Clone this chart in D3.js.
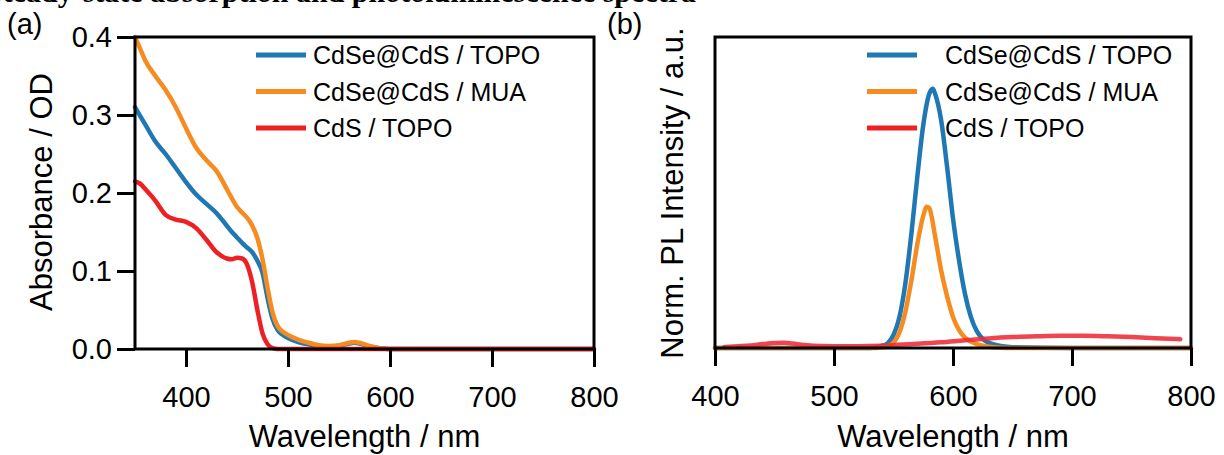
<!DOCTYPE html>
<html><head><meta charset="utf-8">
<script src="https://cdn.jsdelivr.net/npm/d3@7"></script>
<style>
body{margin:0;background:#fff;}
svg{display:block;}
text{font-family:"Liberation Sans",Arial,sans-serif;fill:#000;}
</style></head>
<body>
<svg id="chart" width="1224" height="455"></svg>
<script>
// ---------- Data ----------
const seriesNames = ["CdSe@CdS / TOPO", "CdSe@CdS / MUA", "CdS / TOPO"];
const seriesColors = ["#1f77b4", "#f68b1f", "#ee2024"];

// (a) absorbance
const absWl = [350,355,360,370,380,390,400,410,420,430,440,445,450,455,460,465,470,475,480,485,490,495,500,510,520,530,540,550,560,565,570,580,590,600,650,700,750,800];
const absTopo = [0.310,0.299,0.288,0.266,0.250,0.232,0.214,0.198,0.186,0.174,0.158,0.150,0.143,0.136,0.130,0.124,0.113,0.098,0.065,0.038,0.024,0.018,0.014,0.009,0.006,0.004,0.003,0.004,0.007,0.008,0.007,0.003,0.001,0,0,0,0,0];
const absMua  = [0.400,0.385,0.370,0.350,0.332,0.310,0.283,0.258,0.242,0.228,0.205,0.193,0.182,0.175,0.168,0.158,0.142,0.115,0.078,0.046,0.029,0.022,0.018,0.012,0.008,0.005,0.004,0.005,0.008,0.009,0.008,0.004,0.001,0,0,0,0,0];
const absCdS  = [0.215,0.212,0.205,0.190,0.172,0.166,0.163,0.155,0.140,0.124,0.116,0.115,0.117,0.116,0.108,0.085,0.050,0.020,0.006,0.001,0,0,0,0,0,0,0,0,0,0,0,0,0,0,0,0,0,0];
const absTicksX = [400,500,600,700,800];
const absTicksY = [0.0,0.1,0.2,0.3,0.4];

// (b) normalized PL
const plTopoWl = [400,500,530,540,545,550,555,560,565,570,575,580,583,585,590,595,600,605,610,615,620,625,630,640,650,700,800];
const plTopo   = [0,0,0,0.008,0.018,0.05,0.12,0.25,0.44,0.66,0.86,0.98,1.0,0.98,0.88,0.70,0.50,0.34,0.21,0.12,0.065,0.035,0.02,0.008,0.003,0,0];
const plMuaWl  = [400,500,530,540,545,550,555,560,565,570,575,578,580,585,590,595,600,605,610,615,620,630,640,650,700,800];
const plMua    = [0,0,0,0.002,0.006,0.02,0.06,0.14,0.26,0.40,0.51,0.545,0.54,0.43,0.30,0.20,0.12,0.07,0.04,0.025,0.015,0.005,0.001,0,0,0];
const plCdSWl  = [408,420,430,440,450,458,465,475,490,510,530,550,570,590,610,630,650,670,690,710,730,750,770,791];
const plCdS    = [0.004,0.007,0.010,0.015,0.019,0.020,0.017,0.012,0.008,0.007,0.008,0.011,0.016,0.022,0.030,0.037,0.042,0.045,0.047,0.047,0.045,0.042,0.038,0.034];
const plTicksX = [400,500,600,700,800];

// ---------- Drawing ----------
const svg = d3.select("#chart");
const tickFont = 29, titleFont = 31, legFont = 25;

// cut-off heading at the very top
svg.append("text").attr("x", -14).attr("y", 2).attr("text-anchor","start")
  .style("font-family","'Liberation Serif',serif").style("font-weight","bold").style("font-size","30px")
  .text("Steady-state absorption and photoluminescence spectra");

function panel(opt){
  const x = d3.scaleLinear().domain(opt.xDomain).range([opt.left, opt.right]);
  const y = d3.scaleLinear().domain(opt.yDomain).range([opt.bottom, opt.top]);
  const g = svg.append("g");
  const line = d3.line().x(d=>x(d[0])).y(d=>y(d[1])).curve(d3.curveMonotoneX);
  opt.series.forEach(s=>{
    g.append("path").datum(s.wl.map((w,i)=>[w,s.v[i]]))
      .attr("d", line).attr("fill","none").attr("stroke", s.color)
      .attr("stroke-width", 4.5).attr("stroke-linejoin","round").attr("stroke-linecap","round")
      .attr("opacity", s.opacity||1);
  });
  // frame
  g.append("rect").attr("x", opt.left).attr("y", opt.top)
    .attr("width", opt.right-opt.left).attr("height", opt.bottom-opt.top)
    .attr("fill","none").attr("stroke","#000").attr("stroke-width",3);
  // x axis
  const xa = g.append("g").attr("transform",`translate(0,${opt.bottom})`)
    .call(d3.axisBottom(x).tickValues(opt.xTicks).tickSize(18).tickSizeOuter(0).tickPadding(19).tickFormat(d3.format("d")));
  xa.select(".domain").remove();
  xa.selectAll("line").attr("stroke","#000").attr("stroke-width",3);
  xa.selectAll("text").style("font-size", tickFont+"px").style("font-family","'Liberation Sans',Arial,sans-serif");
  if(opt.yTicks){
    const ya = g.append("g").attr("transform",`translate(${opt.left},0)`)
      .call(d3.axisLeft(y).tickValues(opt.yTicks).tickSize(18).tickSizeOuter(0).tickPadding(5).tickFormat(d3.format(".1f")));
    ya.select(".domain").remove();
    ya.selectAll("line").attr("stroke","#000").attr("stroke-width",3);
    ya.selectAll("text").style("font-size", tickFont+"px").style("font-family","'Liberation Sans',Arial,sans-serif");
  }
  // axis titles
  g.append("text").attr("x",(opt.left+opt.right)/2).attr("y",447).attr("text-anchor","middle")
    .style("font-size",titleFont+"px").text(opt.xTitle);
  g.append("text").attr("transform",`translate(${opt.yTitleX},${opt.yTitleY}) rotate(-90)`)
    .attr("text-anchor","middle").style("font-size",opt.yTitleSize+"px").text(opt.yTitle);
  // panel letter
  g.append("text").attr("x",opt.letterX).attr("y",34).style("font-size","29px").text(opt.letter);
  // legend
  opt.series.forEach((s,i)=>{
    const ly = 55 + i*36.5;
    g.append("line").attr("x1",opt.legX).attr("x2",opt.legX+50).attr("y1",ly).attr("y2",ly)
      .attr("stroke", s.legColor||s.color).attr("stroke-width",5);
    g.append("text").attr("x",opt.legTextX).attr("y",ly+9).style("font-size",legFont+"px").text(s.name);
  });
}

panel({
  left:135, right:594, top:37, bottom:349,
  xDomain:[350,800], yDomain:[0,0.4], xTicks:absTicksX, yTicks:absTicksY,
  xTitle:"Wavelength / nm", yTitle:"Absorbance / OD", yTitleX:52, yTitleY:192, yTitleSize:31,
  letter:"(a)", letterX:7, legX:256, legTextX:313,
  series:[
    {name:seriesNames[0], color:seriesColors[0], wl:absWl, v:absTopo},
    {name:seriesNames[1], color:seriesColors[1], wl:absWl, v:absMua},
    {name:seriesNames[2], color:seriesColors[2], wl:absWl, v:absCdS}
  ]
});

panel({
  left:715, right:1191, top:37, bottom:348,
  xDomain:[400,800], yDomain:[0,1.2], xTicks:plTicksX, yTicks:null,
  xTitle:"Wavelength / nm", yTitle:"Norm. PL Intensity / a.u.", yTitleX:683, yTitleY:193, yTitleSize:31,
  letter:"(b)", letterX:607, legX:867, legTextX:945,
  series:[
    {name:seriesNames[0], color:seriesColors[0], wl:plTopoWl, v:plTopo},
    {name:seriesNames[1], color:seriesColors[1], wl:plMuaWl, v:plMua},
    {name:seriesNames[2], color:"#ee2a36", legColor:seriesColors[2], opacity:0.88, wl:plCdSWl, v:plCdS}
  ]
});
</script>
</body></html>
